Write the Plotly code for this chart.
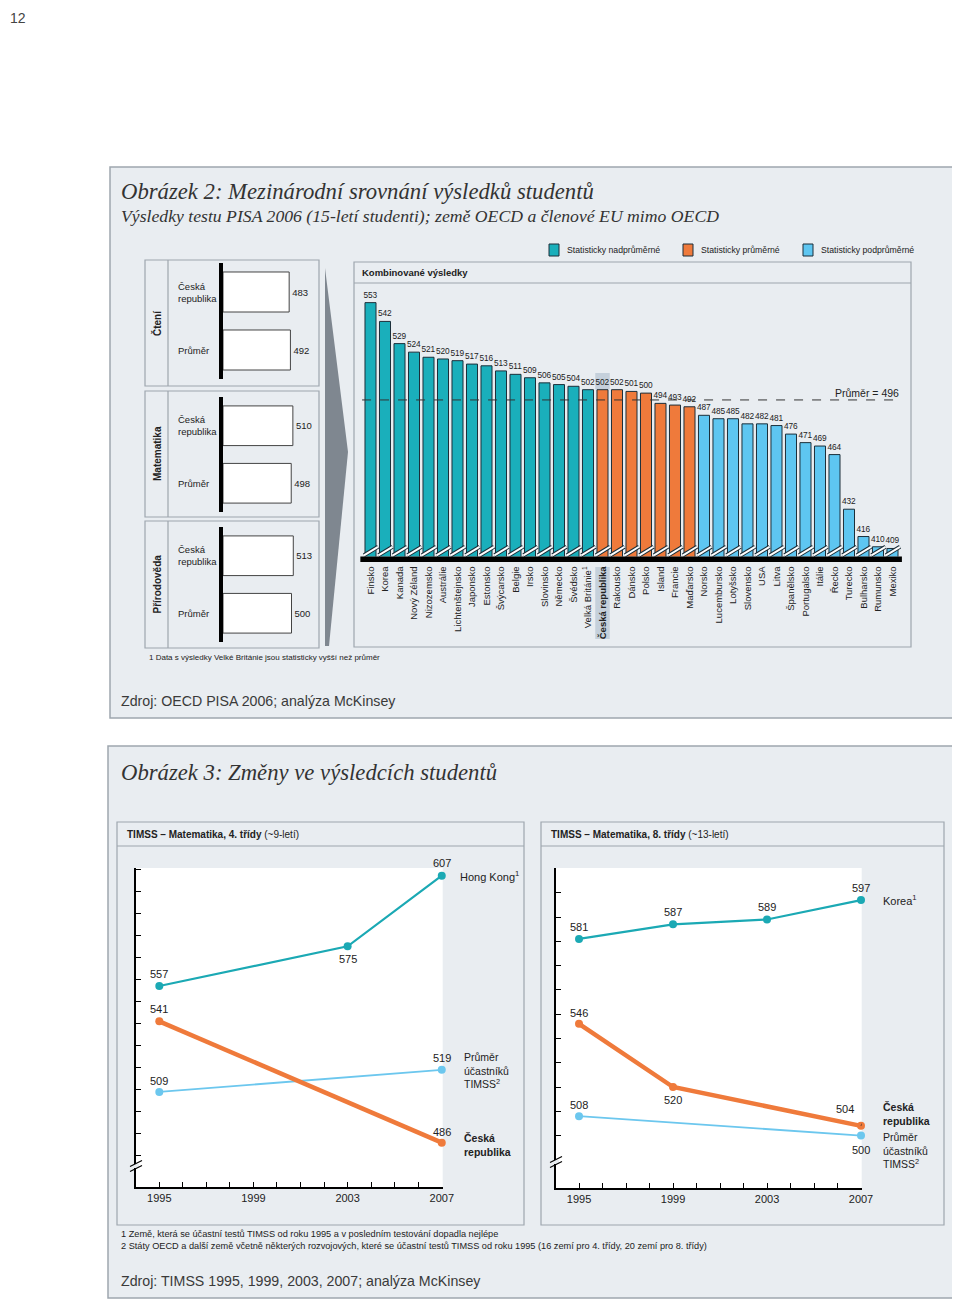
import plotly.graph_objects as go

# ---------------- data ----------------
countries = ["Finsko", "Korea", "Kanada", "Nový Zéland", "Nizozemsko", "Austrálie",
             "Lichtenštejnsko", "Japonsko", "Estonsko", "Švýcarsko", "Belgie", "Irsko",
             "Slovinsko", "Německo", "Švédsko", "Velká Británie<sup>1</sup>",
             "Česká republika", "Rakousko", "Dánsko", "Polsko", "Island", "Francie",
             "Maďarsko", "Norsko", "Lucembursko", "Lotyšsko", "Slovensko", "USA", "Litva",
             "Španělsko", "Portugalsko", "Itálie", "Řecko", "Turecko", "Bulharsko",
             "Rumunsko", "Mexiko"]
pisa_scores = [553, 542, 529, 524, 521, 520, 519, 517, 516, 513, 511, 509, 506, 505, 504,
               502, 502, 502, 501, 500, 494, 493, 492, 487, 485, 485, 482, 482, 481, 476,
               471, 469, 464, 432, 416, 410, 409]
# N = nadprůměrné, P = průměrné, D = podprůměrné
pisa_group = ["N", "N", "N", "N", "N", "N", "N", "N", "N", "N", "N", "N", "N", "N", "N", "N",
              "P", "P", "P", "P", "P", "P", "P",
              "D", "D", "D", "D", "D", "D", "D", "D", "D", "D", "D", "D", "D", "D"]
pisa_average = 496
highlight_country = "Česká republika"

subjects = ["Čtení", "Matematika", "Přírodověda"]
subject_rows = ["Česká<br>republika", "Průměr"]
cz_subject = [483, 510, 513]
avg_subject = [492, 498, 500]

g4_hk_years = [1995, 2003, 2007]
g4_hk = [557, 575, 607]
g4_cz_years = [1995, 2007]
g4_cz = [541, 486]
g4_avg_years = [1995, 2007]
g4_avg = [509, 519]

g8_kr_years = [1995, 1999, 2003, 2007]
g8_kr = [581, 587, 589, 597]
g8_cz_years = [1995, 1999, 2007]
g8_cz = [546, 520, 504]
g8_avg_years = [1995, 2007]
g8_avg = [508, 500]

year_labels = [1995, 1999, 2003, 2007]

# ---------------- style ----------------
OFF = 8                      # the page body margin places the figure at (8, 8)
W, H = 960 - OFF, 1302 - OFF
def px(x): return (x - OFF) / W
def py(y): return 1 - (y - OFF) / H

TEAL = "#1aafbb"
ORANGE = "#ef7a3b"
LBLUE = "#5ec6f1"
TEAL_LINE = "#1ba9b4"
LBLUE_LINE = "#6cc7ee"
PANEL = "#e9edf1"
BORDER = "#9ea6ae"
DARK = "#1c2f3a"
SANS = "Liberation Sans, Arial, sans-serif"
SERIF = "Liberation Serif, Times New Roman, serif"
group_color = {"N": TEAL, "P": ORANGE, "D": LBLUE}

fig = go.Figure()
shapes = []
anns = []

def rect(x0, y0, x1, y1, fill=None, line=BORDER, lw=1.2, layer="below"):
    shapes.append(dict(type="rect", xref="paper", yref="paper", x0=px(x0), x1=px(x1),
                       y0=py(y1), y1=py(y0), fillcolor=fill or "rgba(0,0,0,0)",
                       line=dict(color=line, width=lw), layer=layer))

def hline(x0, x1, y, color=BORDER, lw=1.2):
    shapes.append(dict(type="line", xref="paper", yref="paper", x0=px(x0), x1=px(x1),
                       y0=py(y), y1=py(y), line=dict(color=color, width=lw), layer="below"))

def vline(x, y0, y1, color=BORDER, lw=1.2):
    shapes.append(dict(type="line", xref="paper", yref="paper", x0=px(x), x1=px(x),
                       y0=py(y0), y1=py(y1), line=dict(color=color, width=lw), layer="below"))

def text(x, y, s, size=10, color="#222", anchor="left", family=SANS, angle=0, yanchor="middle", align="left"):
    anns.append(dict(x=px(x), y=py(y), xref="paper", yref="paper", text=s, showarrow=False,
                     xanchor=anchor, yanchor=yanchor, textangle=angle, align=align,
                     font=dict(size=size, color=color, family=family)))

# ---------------- panel backgrounds ----------------
rect(110, 167, 957, 718, fill=PANEL, lw=1.5)
rect(108, 746, 957, 1298, fill=PANEL, lw=1.5)

text(8, 8, "12", size=14, color="#444", yanchor="top")

# Titles
text(119, 192, "<i>Obrázek 2: Mezinárodní srovnání výsledků studentů</i>", size=22.7, color="#333", family=SERIF)
text(119, 216, "<i>Výsledky testu PISA 2006 (15-letí studenti); země OECD a členové EU mimo OECD</i>", size=17.7, color="#333", family=SERIF)
text(119, 773, "<i>Obrázek 3: Změny ve výsledcích studentů</i>", size=22.7, color="#333", family=SERIF)

# Legend
legend_items = [(549, TEAL, "Statisticky nadprůměrné"), (683, ORANGE, "Statisticky průměrné"),
                (803, LBLUE, "Statisticky podprůměrné")]
for lx, col, lab in legend_items:
    rect(lx, 244, lx + 10, 256, fill=col, line=DARK, lw=1)
    text(lx + 16, 250, lab, size=8.7)

# Left mini-panels
mini_boxes = [(260, 386), (391, 517), (521, 648)]
mini_domains = [(263, 379), (397, 512), (527, 642)]
for (b0, b1), subj in zip(mini_boxes, subjects):
    rect(145, b0, 319, b1)
    vline(168, b0, b1)
    text(157, (b0 + b1) / 2, "<b>" + subj + "</b>", size=10, anchor="center", angle=-90)

# Arrow
shapes.append(dict(type="path", xref="paper", yref="paper",
                   path=f"M {px(325)},{py(268)} L {px(348)},{py(452)} L {px(329)},{py(646)} L {px(325)},{py(646)} Z",
                   fillcolor="#7f8790", line=dict(width=0), layer="below"))

# Main chart box
rect(354, 262, 911, 647)
hline(354, 911, 283)
text(360, 272, "<b>Kombinované výsledky</b>", size=9.5)

# CZ highlight
cz_i = countries.index(highlight_country)
shapes.append(dict(type="rect", xref="x", yref="paper", x0=cz_i - 0.5, x1=cz_i + 0.5,
                   y0=py(639), y1=py(567), fillcolor="#c5d0db", line=dict(width=0), layer="below"))
shapes.append(dict(type="rect", xref="x", yref="y", x0=cz_i - 0.5, x1=cz_i + 0.5,
                   y0=pisa_scores[cz_i] + 0.3, y1=pisa_scores[cz_i] + 9.8,
                   fillcolor="#c5d0db", line=dict(width=0), layer="below"))

# ---------------- main bars ----------------
idx = list(range(len(countries)))
fig.add_trace(go.Bar(
    x=idx, y=pisa_scores, width=0.76,
    marker=dict(color=[group_color[g] for g in pisa_group], line=dict(color=DARK, width=1)),
    text=[str(v) for v in pisa_scores], textposition="outside", constraintext="none",
    textfont=dict(size=8.3, color="#222", family=SANS), cliponaxis=False,
    xaxis="x", yaxis="y", hoverinfo="skip"))

# break marks at the bottom of bars
bx, by = [], []
for i in idx:
    bx += [i - 0.45, i + 0.52, None]
    by += [405.0, 410.0, None]
fig.add_trace(go.Scatter(x=bx, y=by, mode="lines", line=dict(color=DARK, width=4),
                         xaxis="x", yaxis="y", hoverinfo="skip"))
fig.add_trace(go.Scatter(x=bx, y=by, mode="lines", line=dict(color="white", width=2),
                         xaxis="x", yaxis="y", hoverinfo="skip"))
shapes.append(dict(type="rect", xref="x", yref="paper", x0=-0.7, x1=36.65,
                   y0=py(562), y1=py(556.5), fillcolor="black", line=dict(width=0), layer="above"))

# average line
shapes.append(dict(type="line", xref="x domain", yref="y", x0=0.011, x1=0.98,
                   y0=pisa_average, y1=pisa_average,
                   line=dict(color="#333", width=1, dash="dash"), layer="above"))
anns.append(dict(x=px(901), y=pisa_average, xref="paper", yref="y", text=f"Průměr = {pisa_average}",
                 showarrow=False, xanchor="right", yanchor="middle", yshift=7,
                 font=dict(size=10.5, color="#222", family=SANS)))

ticktext = [("<b>" + c + "</b>") if c == highlight_country else c for c in countries]

# ---------------- mini bars ----------------
for k in range(3):
    a = k + 2
    fig.add_trace(go.Bar(
        x=[cz_subject[k], avg_subject[k]], y=[0, 1], orientation="h", width=0.69,
        marker=dict(color="white", line=dict(color="#444", width=1)),
        text=[str(cz_subject[k]), str(avg_subject[k])], textposition="outside",
        textfont=dict(size=9.5, color="#222"), cliponaxis=False, constraintext="none",
        xaxis=f"x{a}", yaxis=f"y{a}", hoverinfo="skip"))
    for r, lab in enumerate(subject_rows):
        anns.append(dict(x=px(176), y=r, xref="paper", yref=f"y{a}", text=lab, showarrow=False,
                         xanchor="left", yanchor="middle", align="left",
                         font=dict(size=9.5, color="#222", family=SANS)))

# ---------------- bottom panels ----------------
for (x0, x1, head) in [(117, 524, "<b>TIMSS – Matematika, 4. třídy</b> (~9-letí)"),
                       (541, 944, "<b>TIMSS – Matematika, 8. třídy</b> (~13-letí)")]:
    rect(x0, 822, x1, 1225)
    hline(x0, x1, 846)
    text(x0 + 8, 834, head, size=10)

for xa, ya in [("x5", "y5"), ("x6", "y6")]:
    shapes.append(dict(type="rect", xref=f"{xa} domain", yref=f"{ya} domain", x0=0, x1=1, y0=0, y1=1,
                       fillcolor="white", line=dict(width=0), layer="below"))

def add_series(xs, ys, color, width, xa, ya):
    fig.add_trace(go.Scatter(x=xs, y=ys, mode="lines+markers",
                             line=dict(color=color, width=width),
                             marker=dict(color=color, size=8), cliponaxis=False,
                             xaxis=xa, yaxis=ya, hoverinfo="skip"))

def point_labels(xs, ys, shifts, xa, ya):
    for x, y, (dx, dy) in zip(xs, ys, shifts):
        anns.append(dict(x=x, y=y, xref=xa, yref=ya, text=str(y), showarrow=False,
                         xshift=dx, yshift=dy, xanchor="center", yanchor="middle",
                         font=dict(size=11, color="#222", family=SANS)))

def series_label(x, y, s, dx, dy, xa, ya, size=11):
    anns.append(dict(x=x, y=y, xref=xa, yref=ya, text=s, showarrow=False, xshift=dx, yshift=dy,
                     xanchor="left", yanchor="middle", align="left",
                     font=dict(size=size, color="#222", family=SANS)))

# 4th grade
add_series(g4_avg_years, g4_avg, LBLUE_LINE, 1.8, "x5", "y5")
add_series(g4_cz_years, g4_cz, ORANGE, 4.5, "x5", "y5")
add_series(g4_hk_years, g4_hk, TEAL_LINE, 2.2, "x5", "y5")
point_labels(g4_hk_years, g4_hk, [(0, 12), (0, -13), (0, 13)], "x5", "y5")
point_labels(g4_cz_years, g4_cz, [(0, 12), (0, 11)], "x5", "y5")
point_labels(g4_avg_years, g4_avg, [(0, 11), (0, 12)], "x5", "y5")
series_label(g4_hk_years[-1], g4_hk[-1], "Hong Kong<sup>1</sup>", 16, 0, "x5", "y5")
series_label(g4_avg_years[-1], g4_avg[-1], "Průměr<br>účastníků<br>TIMSS<sup>2</sup>", 20, -1, "x5", "y5", size=10.5)
series_label(g4_cz_years[-1], g4_cz[-1], "<b>Česká<br>republika</b>", 20, -2, "x5", "y5", size=10.5)

# 8th grade
add_series(g8_avg_years, g8_avg, LBLUE_LINE, 1.8, "x6", "y6")
add_series(g8_cz_years, g8_cz, ORANGE, 4.5, "x6", "y6")
add_series(g8_kr_years, g8_kr, TEAL_LINE, 2.2, "x6", "y6")
point_labels(g8_kr_years, g8_kr, [(0, 12), (0, 12), (0, 12), (0, 12)], "x6", "y6")
point_labels(g8_cz_years, g8_cz, [(0, 11), (0, -13), (-16, 17)], "x6", "y6")
point_labels(g8_avg_years, g8_avg, [(0, 11), (0, -14)], "x6", "y6")
series_label(g8_kr_years[-1], g8_kr[-1], "Korea<sup>1</sup>", 20, 0, "x6", "y6")
series_label(g8_cz_years[-1], g8_cz[-1], "<b>Česká<br>republika</b>", 20, 12, "x6", "y6", size=10.5)
series_label(g8_avg_years[-1], g8_avg[-1], "Průměr<br>účastníků<br>TIMSS<sup>2</sup>", 20, -15, "x6", "y6", size=10.5)
# leader line for CZ label
shapes.append(dict(type="path", xref="x6", yref="y6",
                   path=f"M {g8_cz_years[-1]},{g8_cz[-1]} L {g8_cz_years[-1] + 0.3},{g8_cz[-1] + 5.5} L {g8_cz_years[-1] + 0.65},{g8_cz[-1] + 5.5}",
                   line=dict(color="#333", width=1), layer="above"))

# axis break marks
for (ax, ay) in [(136, 1166), (556, 1162)]:
    shapes.append(dict(type="rect", xref="paper", yref="paper", x0=px(ax - 3), x1=px(ax + 3),
                       y0=py(ay + 2), y1=py(ay - 2), fillcolor=PANEL, line=dict(width=0), layer="above"))
    for off in (-2.5, 2.5):
        shapes.append(dict(type="line", xref="paper", yref="paper", x0=px(ax - 6), x1=px(ax + 6),
                           y0=py(ay + off + 3), y1=py(ay + off - 3),
                           line=dict(color="black", width=1.2), layer="above"))

# footnotes & sources
text(147, 657, "1 Data s výsledky Velké Británie jsou statisticky vyšší než průměr", size=8)
text(119, 701, "Zdroj: OECD PISA 2006; analýza McKinsey", size=14.2, color="#3a3a3a")
text(119, 1234, "1 Země, která se účastní testů TIMSS od roku 1995 a v posledním testování dopadla nejlépe", size=9.2)
text(119, 1246, "2 Státy OECD a další země včetně některých rozvojových, které se účastní testů TIMSS od roku 1995 (16 zemí pro 4. třídy, 20 zemí pro 8. třídy)", size=9.2)
text(119, 1281, "Zdroj: TIMSS 1995, 1999, 2003, 2007; analýza McKinsey", size=14.2, color="#3a3a3a")

# ---------------- layout ----------------
def line_xaxis(dom, rng, anchor):
    return dict(domain=dom, range=rng, anchor=anchor, showline=True, linecolor="black", linewidth=1.5,
                ticks="inside", ticklen=5, tickcolor="black", tickwidth=1,
                tickvals=year_labels, ticktext=[str(y) for y in year_labels],
                minor=dict(dtick=1, tick0=year_labels[0], ticks="inside", ticklen=5,
                           tickcolor="black", tickwidth=1, showgrid=False),
                tickfont=dict(size=11, color="#222"), showgrid=False, zeroline=False, fixedrange=True)

def line_yaxis(dom, rng, anchor, tv):
    return dict(domain=dom, range=rng, anchor=anchor, showline=True, linecolor="black", linewidth=1.5,
                ticks="inside", ticklen=5, tickcolor="black", tickwidth=1, tickvals=tv,
                showticklabels=False, showgrid=False, zeroline=False, fixedrange=True)

layout = dict(
    width=W, height=H, margin=dict(l=0, r=0, t=0, b=0), template="none",
    paper_bgcolor="white", plot_bgcolor="rgba(0,0,0,0)", showlegend=False, bargap=0.24,
    font=dict(family=SANS, color="#222"),
    xaxis=dict(domain=[px(356), px(908)], range=[-1.0, 37.07], anchor="y",
               tickvals=idx, ticktext=ticktext, tickangle=-90,
               tickfont=dict(size=9.5, color="#222"), ticks="", showline=False,
               showgrid=False, zeroline=False, ticklabelstandoff=7, fixedrange=True),
    yaxis=dict(domain=[py(556.5), py(283)], range=[404.3, 564.5], anchor="x", visible=False),
    xaxis5=line_xaxis([px(136), px(442.7)], [1994.01, 2007.04], "y5"),
    yaxis5=line_yaxis([py(1187), py(868)], [465.9, 610.5], "x5", list(range(480, 611, 10))),
    xaxis6=line_xaxis([px(556), px(861.7)], [1994.02, 2007.03], "y6"),
    yaxis6=line_yaxis([py(1188), py(868)], [478.4, 610.2], "x6", list(range(500, 611, 10))),
    shapes=shapes, annotations=anns,
)
for k, (d0, d1) in enumerate(mini_domains):
    a = k + 2
    layout[f"xaxis{a}"] = dict(domain=[px(223), px(310)], range=[0, 635], anchor=f"y{a}",
                               visible=False, fixedrange=True)
    layout[f"yaxis{a}"] = dict(domain=[py(d1), py(d0)], range=[1.5, -0.5], anchor=f"x{a}",
                               showline=True, linewidth=4, linecolor="black", showticklabels=False,
                               ticks="", showgrid=False, zeroline=False, fixedrange=True)

fig.update_layout(**layout)
fig.write_html("out.html")
